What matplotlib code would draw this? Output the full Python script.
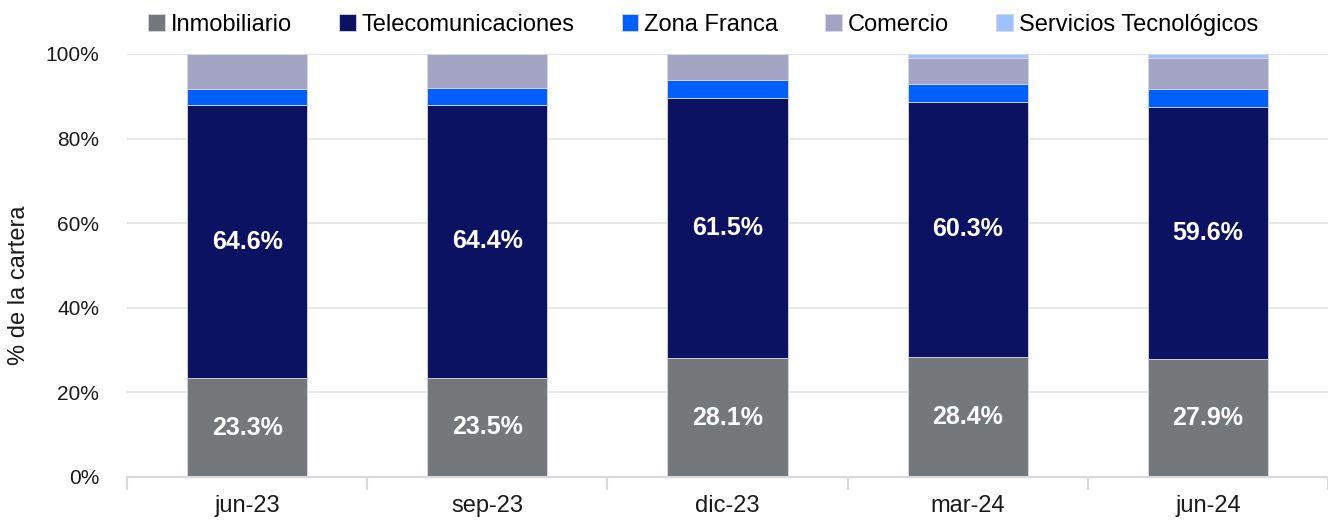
import matplotlib
matplotlib.use("Agg")
import matplotlib.pyplot as plt
import numpy as np
from matplotlib.ticker import FuncFormatter, FixedLocator

plt.rcParams['font.family'] = ['Liberation Sans', 'DejaVu Sans']

categories = ["jun-23", "sep-23", "dic-23", "mar-24", "jun-24"]
series_names = ["Inmobiliario", "Telecomunicaciones", "Zona Franca", "Comercio", "Servicios Tecnológicos"]
inmobiliario = [23.3, 23.5, 28.1, 28.4, 27.9]
telecomunicaciones = [64.6, 64.4, 61.5, 60.3, 59.6]
zona_franca = [3.9, 4.1, 4.3, 4.3, 4.3]
comercio = [8.2, 8.0, 6.1, 6.1, 7.3]
servicios_tec = [0.0, 0.0, 0.0, 0.9, 0.9]
colors = ["#75787b", "#0b1261", "#0060ff", "#a3a3c4", "#9fc2ff"]
labeled = [True, True, False, False, False]

fig = plt.figure(figsize=(13.28, 5.21), dpi=100)
ax = fig.add_axes([127/1328, 1 - 477/521, (1328 - 127)/1328, (477 - 54)/521])

x = np.arange(len(categories))
bottom = np.zeros(len(categories))
handles = []
for name, vals, col, lab in zip(series_names,
                                [inmobiliario, telecomunicaciones, zona_franca, comercio, servicios_tec],
                                colors, labeled):
    vals = np.array(vals)
    b = ax.bar(x, vals, width=0.5, bottom=bottom, color=col, edgecolor="#d8d8e6", linewidth=0.6,
               label=name, zorder=2)
    handles.append(b)
    if lab:
        for xi, v, bt in zip(x, vals, bottom):
            ax.text(xi, bt + v / 2, f"{v:.1f}%", ha="center", va="center", color="white",
                    fontsize=18, fontweight="bold", zorder=3)
    bottom += vals

ax.set_xlim(-0.5, len(categories) - 0.5)
ax.set_ylim(0, 100)

ax.yaxis.set_major_locator(FixedLocator([0, 20, 40, 60, 80, 100]))
ax.yaxis.set_major_formatter(FuncFormatter(lambda v, p: f"{int(v)}%"))
ax.tick_params(axis="y", length=0, labelsize=15, pad=20, labelcolor="#1a1a1a")
ax.grid(axis="y", color="#e3e3e3", linewidth=1.2, zorder=0)
ax.set_axisbelow(True)

ax.set_xticks(x)
ax.set_xticklabels(categories)
ax.tick_params(axis="x", which="major", length=0, labelsize=17, pad=13, labelcolor="#1a1a1a")
ax.set_xticks(np.arange(-0.5, len(categories) + 0.5, 1), minor=True)
ax.tick_params(axis="x", which="minor", length=9, color="#d9d9d9", width=1.5)

for s in ["top", "right", "left"]:
    ax.spines[s].set_visible(False)
ax.spines["bottom"].set_color("#d9d9d9")
ax.spines["bottom"].set_linewidth(1.5)

fig.text(19/1328, 1 - 285/521, "% de la cartera", rotation=90, ha="center", va="center",
         fontsize=17, color="#1a1a1a")

fig.legend(handles=handles, labels=series_names, loc="center", bbox_to_anchor=(703/1328, 1 - 25/521),
           ncol=5, frameon=False, fontsize=17, handlelength=0.7, handleheight=0.7,
           handletextpad=0.25, columnspacing=2.0)

fig.savefig("out.png", dpi=100)
